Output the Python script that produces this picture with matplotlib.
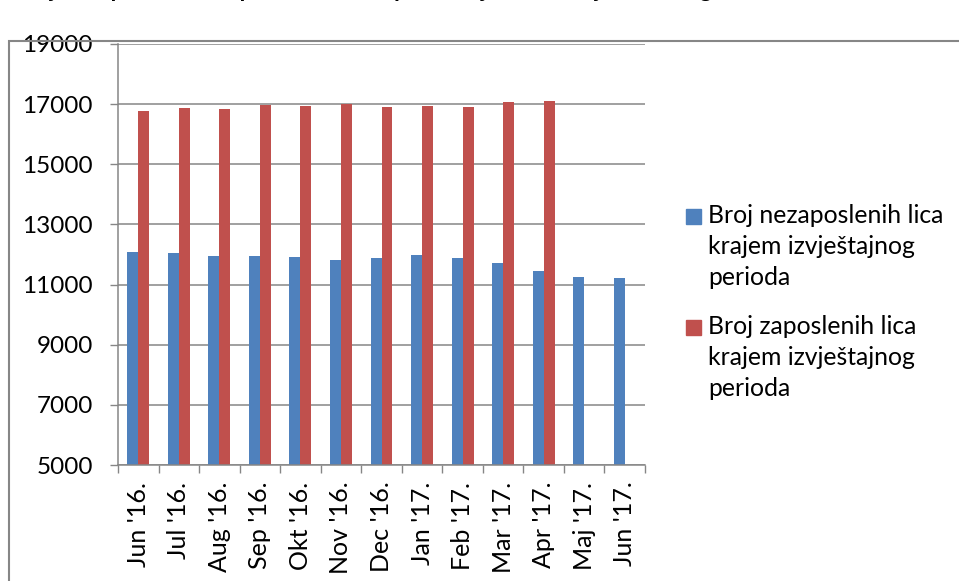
import matplotlib
matplotlib.use("Agg")
import matplotlib.pyplot as plt
import numpy as np
from matplotlib.patches import Rectangle

# podaci
mjeseci = ["Jun '16.", "Jul '16.", "Aug '16.", "Sep '16.", "Okt '16.", "Nov '16.",
           "Dec '16.", "Jan '17.", "Feb '17.", "Mar '17.", "Apr '17.", "Maj '17.", "Jun '17."]
nezaposleni = [12067, 12045, 11945, 11955, 11912, 11812, 11890, 11967, 11880, 11723, 11445, 11257, 11213]
zaposleni = [16757, 16867, 16845, 16978, 16945, 17010, 16912, 16933, 16912, 17055, 17100]
oznaka_nez = "Broj nezaposlenih lica\nkrajem izvještajnog\nperioda"
oznaka_zap = "Broj zaposlenih lica\nkrajem izvještajnog\nperioda"
naslov = "Broj nezaposlenih i zaposlenih lica u periodu jun 2016 - jun 2017. godine"

plt.rcParams['font.family'] = ['Lato', 'DejaVu Sans']
siva = '#868686'
plava = '#4F81BD'
crvena = '#C0504D'
W, H = 959, 581

fig = plt.figure(figsize=(W / 100, H / 100), dpi=100)
ax = fig.add_axes([118 / W, 1 - 465 / H, (645 - 118) / W, (465 - 44) / H])

# okvir grafikona (odsječen desno i dolje)
fig.patches.append(Rectangle((9 / W, -0.1), 1.1, 1 - 41 / H + 0.1, transform=fig.transFigure,
                             fill=False, edgecolor=siva, lw=1.5))
# naslov - vidi se samo donji dio
fig.text(12 / W, 1.0 + 3 / H, naslov, fontsize=17, fontweight='bold', va='baseline', ha='left')

x = np.arange(len(mjeseci))
w = 0.27
ax.bar(x[:len(nezaposleni)] - w / 2, nezaposleni, w, color=plava, zorder=3)
ax.bar(x[:len(zaposleni)] + w / 2, zaposleni, w, color=crvena, zorder=3)

ax.set_ylim(5000, 19000)
ax.set_yticks(np.arange(5000, 19001, 2000))
ax.set_xlim(-0.5, len(mjeseci) - 0.5)
ax.set_xticks(x)
ax.set_xticklabels(mjeseci, rotation=90, fontsize=18)
ax.set_xticks(np.arange(-0.5, len(mjeseci)), minor=True)
ax.tick_params(axis='x', which='major', length=0, pad=12)
ax.tick_params(axis='x', which='minor', length=6, width=1.0, color=siva, direction='out')
ax.tick_params(axis='y', length=6, width=1.0, color=siva, labelsize=17.5, pad=12)

ax.grid(axis='y', color=siva, lw=1.1, zorder=0)
for s in ['top', 'right']:
    ax.spines[s].set_visible(False)
for s in ['left', 'bottom']:
    ax.spines[s].set_color(siva)
    ax.spines[s].set_linewidth(1.1)
ax.spines['bottom'].set_zorder(4)

# legenda - kvadrat poravnat s prvim redom teksta
for boja, tekst, osnova in [(plava, oznaka_nez, 224), (crvena, oznaka_zap, 335)]:
    fig.patches.append(Rectangle((686 / W, 1 - osnova / H), 15 / W, 15 / H,
                                 transform=fig.transFigure, color=boja))
    fig.text(708 / W, 1 - (osnova - 20) / H, tekst, fontsize=17.8, va='top', ha='left',
             linespacing=1.42)

fig.savefig("out.png", dpi=100)
